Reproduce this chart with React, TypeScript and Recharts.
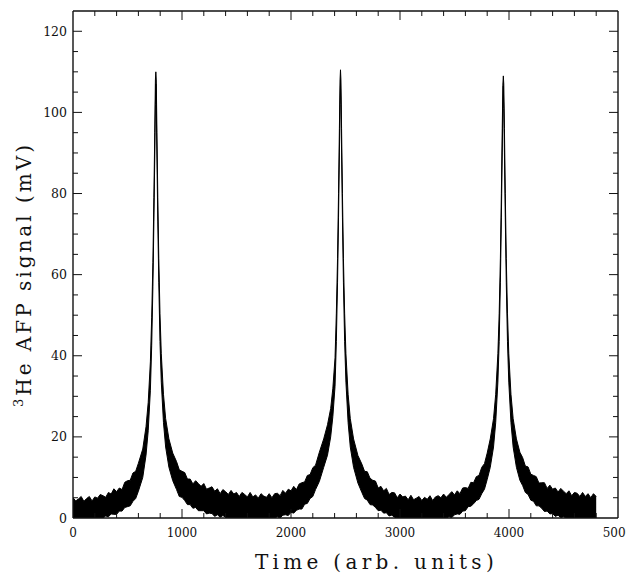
import React from 'react';
import { ComposedChart, Area, XAxis, YAxis } from 'recharts';

// Time samples (arb. units)
const timeValues = [
  // baseline before peak 1
  0, 25, 50, 75, 100, 125, 150, 175, 200, 225, 250, 275, 300, 325, 350, 375, 400, 425, 450, 475, 500, 525, 550, 575, 600,
  // peak 1
  640, 670, 690, 710, 722, 733, 742, 750, 756, 760, 764, 770, 778, 787, 798, 810, 830, 850, 880, 915,
  // between peaks 1 and 2
  950, 975, 1000, 1025, 1050, 1075, 1100, 1125, 1150, 1175, 1200, 1225, 1250, 1275, 1300, 1325, 1350, 1375, 1400, 1425,
  1450, 1475, 1500, 1525, 1550, 1575, 1600, 1625, 1650, 1675, 1700, 1725, 1750, 1775, 1800, 1825, 1850,
  1875, 1900, 1925, 1950, 1975, 2000, 2025, 2050, 2075, 2100, 2125, 2150, 2175, 2200, 2225,
  // peak 2
  2260, 2300, 2335, 2364, 2384, 2404, 2416, 2427, 2436, 2444, 2450, 2454, 2458, 2464, 2472, 2481, 2492, 2504, 2524, 2544, 2574, 2614,
  // between peaks 2 and 3
  2650, 2675, 2700, 2725, 2750, 2775, 2800, 2825, 2850, 2875, 2900, 2925, 2950, 2975,
  3000, 3025, 3050, 3075, 3100, 3125, 3150, 3175, 3200, 3225, 3250, 3275, 3300, 3325, 3350, 3375, 3400, 3425,
  3450, 3475, 3500, 3525, 3550, 3575, 3600, 3625, 3650, 3675, 3700, 3725, 3750, 3775,
  // peak 3
  3800, 3828, 3858, 3878, 3898, 3910, 3921, 3930, 3938, 3944, 3948, 3952, 3958, 3966, 3975, 3986, 3998, 4018, 4038, 4068, 4100,
  // tail after peak 3
  4125, 4150, 4175, 4200, 4225, 4250, 4275, 4300, 4325, 4350, 4375, 4400, 4425, 4450, 4475, 4500, 4525,
  4550, 4575, 4600, 4625, 4650, 4675, 4700, 4725, 4750, 4775, 4800,
];

// Upper edge of the noisy signal band (mV)
const upperValues = [
  5.0, 4.2, 4.7, 5.3, 4.1, 4.8, 5.3, 4.2, 5.2, 4.9, 5.8, 5.5, 5.1, 6.3, 5.9, 7.2, 6.5, 7.4, 7.0, 8.8, 9.2, 9.3, 11.1, 11.5, 13.5,
  17.0, 22.5, 28.5, 38.5, 49.5, 63, 79, 95, 108, 110, 108, 95, 79, 64, 50.5, 40.5, 30.5, 24.5, 19.5, 16.0,
  13.9, 11.9, 11.5, 11.2, 9.6, 9.6, 8.4, 9.2, 8.5, 7.8, 8.5, 7.1, 7.4, 7.7, 6.6, 7.2, 6.0, 7.0, 6.5, 5.8,
  6.8, 5.9, 6.3, 5.3, 6.3, 5.8, 5.2, 6.3, 5.2, 5.7, 4.9, 6.0, 5.4, 5.1, 6.0, 5.0, 6.0,
  6.1, 5.5, 6.8, 6.1, 7.1, 6.7, 7.8, 7.0, 8.4, 8.7, 8.9, 10.5, 10.7, 12.4, 13.0,
  16.2, 19.5, 23, 27, 32, 39.5, 50.5, 64, 80, 96, 108, 110.5, 108, 96, 80, 64, 50.5, 40.5, 30.5, 24.5, 19.5, 15.4,
  13.3, 11.5, 11.4, 9.8, 9.3, 9.1, 7.4, 7.8, 6.7, 7.3, 5.8, 6.3, 6.2, 5.0,
  5.9, 5.2, 5.4, 4.5, 5.6, 4.5, 4.9, 5.3, 4.3, 5.1, 4.6, 5.5, 4.3, 5.2, 5.5, 5.0, 5.9, 5.1,
  5.8, 6.5, 5.7, 6.7, 6.0, 7.4, 7.5, 7.3, 8.8, 8.7, 10.2, 10.5, 12.5, 13.4,
  16.0, 19.5, 24.5, 30.5, 40.5, 50.5, 64, 80, 96, 107, 109, 107, 96, 80, 64, 50.5, 40.5, 30.5, 24.5, 19.5, 16.2,
  14.9, 12.8, 12.6, 10.8, 10.5, 10.2, 8.6, 8.7, 8.7, 7.3, 8.1, 7.1, 7.4, 6.4, 7.3, 6.6, 6.0,
  6.7, 5.5, 6.3, 6.1, 5.3, 6.3, 5.3, 6.0, 5.0, 6.0, 5.3,
];

// Lower edge of the noisy signal band (mV)
const lowerValues = [
  0, 0, 0, 0, 0, 0, 0, 0, 0, 0, 0, 0, 0.5, 0.3, 1.0, 0.9, 0.9, 1.7, 1.7, 2.6, 2.8, 3.0, 4.1, 4.8, 6.6,
  10.0, 15.5, 21.5, 31.5, 42.5, 57, 73, 89, 102, 107, 102, 89, 73, 58, 43.5, 33.5, 23.5, 17.5, 12.5, 9.2,
  7.0, 5.3, 5.1, 4.3, 3.3, 3.3, 2.4, 2.6, 1.8, 1.8, 1.8, 1.0, 1.2, 1.1, 0.4, 0.8, 0.2, 0.6, 0.2, 0,
  0, 0, 0, 0, 0, 0, 0, 0, 0, 0, 0, 0, 0, 0, 0, 0, 0,
  0.3, 0, 0.7, 0.8, 0.6, 1.4, 1.2, 1.9, 2.2, 2.2, 3.4, 3.6, 4.8, 5.3, 7.0,
  9.0, 12.5, 15.5, 20, 25, 32.5, 43.5, 58, 74, 90, 102, 108, 102, 90, 74, 58, 43.5, 33.5, 23.5, 17.5, 12.5, 8.6,
  6.3, 4.8, 4.4, 3.3, 3.2, 2.6, 1.8, 1.9, 1.2, 1.3, 0.5, 0.7, 0.2, 0,
  0, 0, 0, 0, 0, 0, 0, 0, 0, 0, 0, 0, 0, 0, 0, 0, 0, 0,
  0.3, 0.1, 0.8, 1.0, 0.9, 1.7, 1.8, 2.8, 2.9, 3.5, 4.3, 4.6, 6.0, 7.1,
  9.5, 12.5, 17.5, 23.5, 33.5, 43.5, 58, 74, 90, 101, 106.5, 101, 90, 74, 58, 43.5, 33.5, 23.5, 17.5, 12.5, 9.3,
  8.0, 6.3, 5.8, 4.4, 4.1, 3.0, 3.0, 2.4, 1.6, 1.7, 1.0, 1.1, 0.4, 0.7, 0.1, 0.3, 0,
  0, 0, 0, 0, 0, 0, 0, 0, 0, 0, 0,
];

const xMajorTicks = [0, 1000, 2000, 3000, 4000, 5000];
const xAllTicks = [
  0, 200, 400, 600, 800, 1000, 1200, 1400, 1600, 1800, 2000, 2200, 2400, 2600, 2800,
  3000, 3200, 3400, 3600, 3800, 4000, 4200, 4400, 4600, 4800, 5000,
];
const yMajorTicks = [0, 20, 40, 60, 80, 100, 120];
const yAllTicks = [
  0, 5, 10, 15, 20, 25, 30, 35, 40, 45, 50, 55, 60, 65, 70, 75, 80, 85, 90, 95, 100,
  105, 110, 115, 120, 125,
];

const X_TITLE = 'Time (arb. units)';
const Y_TITLE_SUP = '3';
const Y_TITLE = 'He AFP signal (mV)';

const n = Math.min(timeValues.length, upperValues.length, lowerValues.length);
const data = timeValues.slice(0, n).map((t, i) => ({ t, band: [lowerValues[i], upperValues[i]] }));

const SERIF = "'DejaVu Serif', 'Liberation Serif', serif";
const INK = '#111';
const MAJOR_LEN = 9;
const MINOR_LEN = 5;
const TICK_FONT = 12;

const BottomTick = (props: any) => {
  const { x, y, payload } = props;
  const v = payload.value;
  const major = xMajorTicks.includes(v);
  const len = v === 0 || v === 5000 ? 0 : major ? MAJOR_LEN : MINOR_LEN;
  return (
    <g>
      {len > 0 && <line x1={x} x2={x} y1={y} y2={y - len} stroke={INK} strokeWidth={1} />}
      {major && (
        <text x={x} y={y + 18.5} textAnchor="middle" fontFamily={SERIF} fontSize={TICK_FONT} fill={INK}>
          {v}
        </text>
      )}
    </g>
  );
};

const TopTick = (props: any) => {
  const { x, y, payload } = props;
  const v = payload.value;
  const major = xMajorTicks.includes(v);
  const len = v === 0 || v === 5000 ? 0 : major ? MAJOR_LEN : MINOR_LEN;
  return <g>{len > 0 && <line x1={x} x2={x} y1={y} y2={y + len} stroke={INK} strokeWidth={1} />}</g>;
};

const LeftTick = (props: any) => {
  const { x, y, payload } = props;
  const v = payload.value;
  const major = yMajorTicks.includes(v);
  const len = v === 0 || v === 125 ? 0 : major ? MAJOR_LEN : MINOR_LEN;
  return (
    <g>
      {len > 0 && <line x1={x} x2={x + len} y1={y} y2={y} stroke={INK} strokeWidth={1} />}
      {major && (
        <text x={x - 6} y={y} dy="0.36em" textAnchor="end" fontFamily={SERIF} fontSize={TICK_FONT + 0.5} fill={INK}>
          {v}
        </text>
      )}
    </g>
  );
};

const RightTick = (props: any) => {
  const { x, y, payload } = props;
  const v = payload.value;
  const major = yMajorTicks.includes(v);
  const len = v === 0 || v === 125 ? 0 : major ? MAJOR_LEN : MINOR_LEN;
  return <g>{len > 0 && <line x1={x} x2={x - len} y1={y} y2={y} stroke={INK} strokeWidth={1} />}</g>;
};

const XTitle = (props: any) => {
  const vb = props.viewBox || { x: 65, y: 510, width: 545, height: 59 };
  const cx = vb.x + vb.width / 2 + 31;
  return (
    <text x={cx} y={vb.y + 51} textAnchor="middle" fontFamily={SERIF} fontSize={20} letterSpacing={4.3} fill={INK}>
      {X_TITLE}
    </text>
  );
};

const YTitle = (props: any) => {
  const vb = props.viewBox || { x: 0, y: 3, width: 65, height: 507 };
  const cx = 23;
  const cy = vb.y + vb.height / 2 + 10;
  return (
    <text
      x={cx}
      y={cy}
      textAnchor="middle"
      transform={`rotate(-90, ${cx}, ${cy})`}
      fontFamily={SERIF}
      fontSize={20}
      letterSpacing={3}
      fill={INK}
    >
      <tspan fontSize={13} dy={-8}>{Y_TITLE_SUP}</tspan>
      <tspan dy={8}>{Y_TITLE}</tspan>
    </text>
  );
};

export default function App() {
  return (
    <div style={{ width: 626, height: 569 }}>
      <ComposedChart
        width={626}
        height={569}
        data={data}
        margin={{ top: 0, right: 0, bottom: 0, left: 0 }}
        style={{ overflow: 'visible' }}
      >
        <XAxis
          xAxisId="bottom"
          dataKey="t"
          type="number"
          domain={[0, 5000]}
          ticks={xAllTicks}
          interval={0}
          allowDataOverflow
          height={59}
          tickSize={0}
          tickMargin={0}
          tickLine={false}
          tick={<BottomTick />}
          axisLine={{ stroke: INK, strokeWidth: 1.4 }}
          label={<XTitle />}
        />
        <XAxis
          xAxisId="top"
          orientation="top"
          dataKey="t"
          type="number"
          domain={[0, 5000]}
          ticks={xAllTicks}
          interval={0}
          allowDataOverflow
          height={3}
          tickSize={0}
          tickMargin={0}
          tickLine={false}
          tick={<TopTick />}
          axisLine={{ stroke: INK, strokeWidth: 1.4 }}
        />
        <YAxis
          yAxisId="left"
          type="number"
          domain={[0, 125]}
          ticks={yAllTicks}
          interval={0}
          allowDataOverflow
          width={65}
          tickSize={0}
          tickMargin={0}
          tickLine={false}
          tick={<LeftTick />}
          axisLine={{ stroke: INK, strokeWidth: 1.4 }}
          label={<YTitle />}
        />
        <YAxis
          yAxisId="right"
          orientation="right"
          type="number"
          domain={[0, 125]}
          ticks={yAllTicks}
          interval={0}
          allowDataOverflow
          width={16}
          tickSize={0}
          tickMargin={0}
          tickLine={false}
          tick={<RightTick />}
          axisLine={{ stroke: INK, strokeWidth: 1.4 }}
        />
        <Area
          xAxisId="bottom"
          yAxisId="left"
          type="linear"
          dataKey="band"
          stroke="#000"
          strokeWidth={1}
          fill="#000"
          fillOpacity={1}
          dot={false}
          activeDot={false}
          isAnimationActive={false}
        />
      </ComposedChart>
    </div>
  );
}
